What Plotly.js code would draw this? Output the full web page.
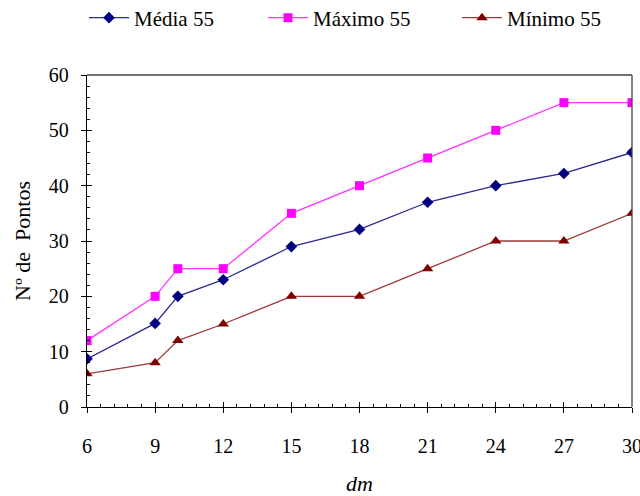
<!DOCTYPE html>
<html>
<head>
<meta charset="utf-8">
<script src="https://cdn.plot.ly/plotly-3.0.1.min.js"></script>
<style>html,body{margin:0;padding:0;background:#fff;}#chart{width:640px;height:496px;}</style>
</head>
<body>
<div id="chart"></div>
<script>
const dm = [6, 9, 10, 12, 15, 18, 21, 24, 27, 30];
const media55 = [8.7, 15.1, 20, 23, 29, 32.1, 37, 40, 42.2, 46];
const maximo55 = [12, 20, 25, 25, 35, 40, 45, 50, 55, 55];
const minimo55 = [6, 8, 12, 15, 20, 20, 25, 30, 30, 35];
const seriesNames = ["Média 55", "Máximo 55", "Mínimo 55"];
const xTicks = [6, 9, 12, 15, 18, 21, 24, 27, 30];
const yTicks = [0, 10, 20, 30, 40, 50, 60];

const fam = "Liberation Serif, Times New Roman, serif";
const tickFont = {family: fam, size: 20, color: "#000"};
const legFont = {family: fam, size: 21, color: "#000"};
const titleFont = {family: fam, size: 22, color: "#000"};

const traces = [
  {x: dm, y: media55, name: seriesNames[0], mode: "lines+markers", legend: "legend",
   line: {color: "#2a2a90", width: 1.3}, marker: {symbol: "diamond", size: 9, color: "#000080"}},
  {x: dm, y: maximo55, name: seriesNames[1], mode: "lines+markers", legend: "legend2",
   line: {color: "#ff33ff", width: 1.3}, marker: {symbol: "square", size: 9, color: "#ff00ff"}},
  {x: dm, y: minimo55, name: seriesNames[2], mode: "lines+markers", legend: "legend3",
   line: {color: "#a03a3a", width: 1.3}, marker: {symbol: "triangle-up", size: 10, color: "#800000"}},
  {x: [null], y: [null], xaxis: "x2", yaxis: "y2", showlegend: false, hoverinfo: "skip", mode: "markers"}
];

function leg(px) {
  return {orientation: "h", xref: "container", yref: "container", x: px / 640, xanchor: "left",
          y: 1 - 18 / 496, yanchor: "middle", font: legFont, itemwidth: 40, bgcolor: "rgba(0,0,0,0)"};
}

const layout = {
  width: 640, height: 496,
  margin: {l: 86.5, r: 8, t: 74.5, b: 88.5},
  paper_bgcolor: "#fff", plot_bgcolor: "#fff",
  font: tickFont,
  showlegend: true,
  legend: leg(84), legend2: leg(263), legend3: leg(457),
  xaxis: {range: [6, 30], tickvals: xTicks, ticktext: xTicks.map(String), showgrid: false, zeroline: false,
          showline: true, linecolor: "#000", linewidth: 1.3, ticks: "outside", ticklen: 5, tickcolor: "#000",
          ticklabelstandoff: 16, ticklabeloverflow: "allow", tickfont: tickFont,
          title: {text: "<i>dm</i>", font: titleFont, standoff: 20}},
  yaxis: {range: [0, 60], tickvals: yTicks, showgrid: false, zeroline: false,
          showline: true, linecolor: "#000", linewidth: 1.3, ticks: "outside", ticklen: 5, tickcolor: "#000",
          ticklabelstandoff: 8, tickfont: tickFont,
          title: {text: "Nº de  Pontos", font: titleFont, standoff: 12}},
  xaxis2: {overlaying: "x", matches: "x", side: "bottom", range: [6, 30], showgrid: false, zeroline: false,
           showline: false, showticklabels: false, tickvals: xTicks, ticks: "inside", ticklen: 5, tickcolor: "#000",
           minor: {dtick: 0.6, tick0: 6, ticks: "inside", ticklen: 3, tickcolor: "#000", showgrid: false}},
  yaxis2: {overlaying: "y", matches: "y", side: "left", range: [0, 60], showgrid: false, zeroline: false,
           showline: false, showticklabels: false, tickvals: yTicks, ticks: "inside", ticklen: 5, tickcolor: "#000",
           minor: {dtick: 2, tick0: 0, ticks: "inside", ticklen: 3, tickcolor: "#000", showgrid: false}},
  shapes: [
    {type: "line", xref: "paper", yref: "paper", x0: 0, x1: 1, y0: 1, y1: 1, line: {color: "#444", width: 1.3}},
    {type: "line", xref: "paper", yref: "paper", x0: 1, x1: 1, y0: 0, y1: 1, line: {color: "#444", width: 1.3}}
  ]
};

Plotly.newPlot("chart", traces, layout, {displayModeBar: false, staticPlot: true});
</script>
</body>
</html>
